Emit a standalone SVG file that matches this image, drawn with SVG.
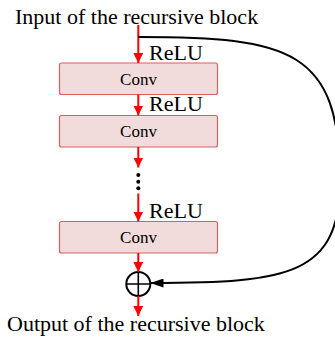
<svg xmlns="http://www.w3.org/2000/svg" width="335" height="339" viewBox="0 0 335 339">
<style>
.lbl{font-family:"Liberation Serif","Times New Roman",serif;font-size:22px;fill:#000}
.conv{font-family:"Liberation Serif","Times New Roman",serif;font-size:17px;fill:#000;text-anchor:middle}
.box{fill:#f2dcdb;stroke:#d9605c;stroke-width:1.2}
.red{stroke:#ff0000;stroke-width:2;fill:none;marker-end:url(#ra)}
.blk{stroke:#000;stroke-width:2;fill:none}
</style>
<defs>
<marker id="ra" markerUnits="userSpaceOnUse" markerWidth="10" markerHeight="10" refX="10" refY="5" orient="auto">
<path d="M0,0 L10,5 L0,10 z" fill="#ff0000"/>
</marker>
<marker id="ba" markerUnits="userSpaceOnUse" markerWidth="13" markerHeight="9" refX="13" refY="4.5" orient="auto">
<path d="M0,0 L13,4.5 L0,9 z" fill="#000"/>
</marker>
</defs>
<text class="lbl" x="15" y="24">Input of the recursive block</text>
<g id="conv1"><rect class="box" x="59.5" y="63" width="158" height="31.5" rx="2"/><text class="conv" x="138.5" y="85">Conv</text></g>
<g id="conv2"><rect class="box" x="59.5" y="115.5" width="158" height="31.5" rx="2"/><text class="conv" x="138.5" y="137">Conv</text></g>
<g id="conv3"><rect class="box" x="59.5" y="221.5" width="158" height="31.5" rx="2"/><text class="conv" x="138.5" y="243">Conv</text></g>
<g id="sum"><circle cx="138.3" cy="284" r="12" fill="none" stroke="#000" stroke-width="2"/><path d="M126.3,284 H150.3 M138.3,272 V296" stroke="#000" stroke-width="1.6"/></g>
<g id="dots" fill="#000"><circle cx="138.3" cy="175" r="2"/><circle cx="138.3" cy="181.7" r="2"/><circle cx="138.3" cy="188.3" r="2"/></g>
<g id="connectors">
<path class="red" d="M138.3,25 V63"/>
<path class="red" d="M138.3,94.5 V115.5"/>
<path class="red" d="M138.3,147 V167.5"/>
<path class="red" d="M138.3,193.5 V221.5"/>
<path class="red" d="M138.3,253 V272"/>
<path class="red" d="M138.3,296 V316"/>
<path class="blk" marker-end="url(#ba)" d="M138.3,37 C290,37 340,50 340,180 C340,275 290,283 150.5,283"/>
</g>
<text class="lbl" x="149" y="60">ReLU</text>
<text class="lbl" x="149" y="111">ReLU</text>
<text class="lbl" x="149" y="218">ReLU</text>
<text class="lbl" x="7" y="331">Output of the recursive block</text>
</svg>
